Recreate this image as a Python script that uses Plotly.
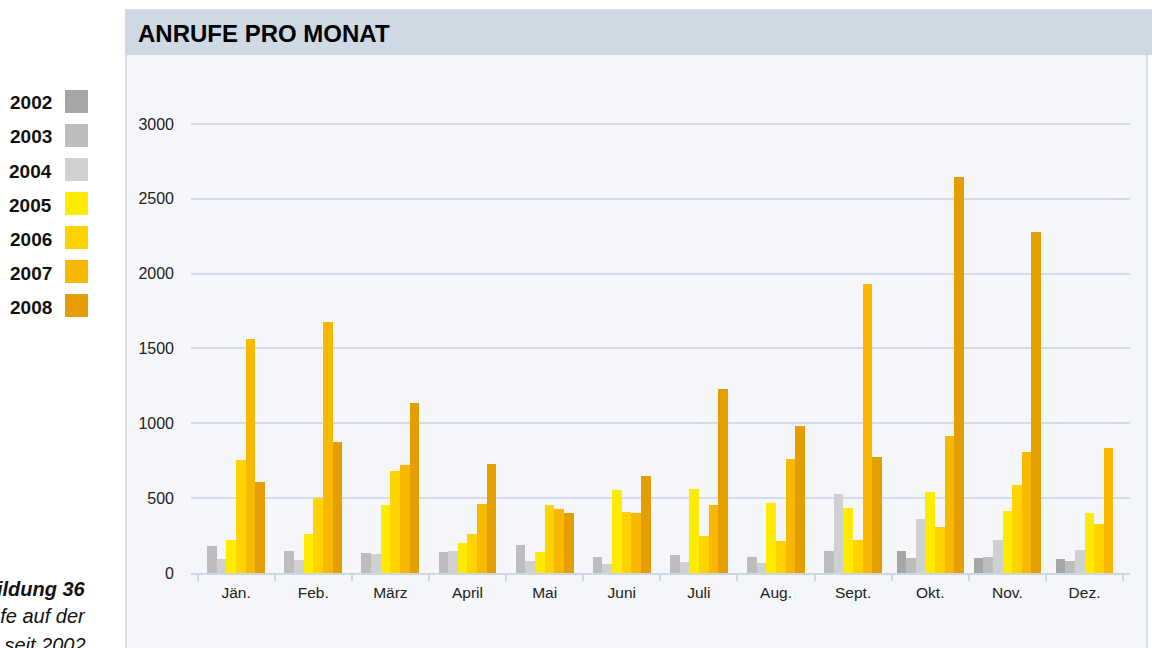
import plotly.graph_objects as go

# Monthly call counts per year
months = ["Jän.", "Feb.", "März", "April", "Mai", "Juni",
          "Juli", "Aug.", "Sept.", "Okt.", "Nov.", "Dez."]
years = ["2002", "2003", "2004", "2005", "2006", "2007", "2008"]

calls_2002 = [None, None, None, None, None, None, None, None, None, 148, 103, 94]
calls_2003 = [181, 147, 134, 143, 190, 110, 118, 104, 148, 101, 108, 80]
calls_2004 = [94, 87, 127, 150, 77, 63, 71, 64, 530, 362, 221, 154]
calls_2005 = [221, 261, 455, 203, 143, 557, 563, 470, 437, 543, 415, 401]
calls_2006 = [756, 502, 683, 263, 457, 410, 250, 217, 223, 309, 589, 328]
calls_2007 = [1560, 1680, 723, 463, 430, 403, 457, 763, 1930, 918, 810, 837]
calls_2008 = [609, 877, 1138, 730, 403, 650, 1226, 983, 777, 2645, 2276, None]

series = [calls_2002, calls_2003, calls_2004, calls_2005,
          calls_2006, calls_2007, calls_2008]
colors = ["#A6A6A6", "#BDBDBF", "#D0D0D2", "#FFEB00",
          "#FFD300", "#F9B800", "#E59E00"]

y_ticks = [0, 500, 1000, 1500, 2000, 2500, 3000]

# Figure geometry (pixels)
W, H = 1152, 648
ML, MR, MT, MB = 191, 22, 94, 75
PW, PH = W - ML - MR, H - MT - MB


def px_x(v):
    return (v - ML) / PW


def px_y(v):
    return (H - MB - v) / PH


BAR_W = 0.125

fig = go.Figure()

# Bars in each month are packed side by side and centred on the month,
# only years that have a value take a slot.
offsets = [[0.0] * len(months) for _ in series]
for m in range(len(months)):
    present = [k for k, s in enumerate(series) if s[m] is not None]
    n = len(present)
    for r, k in enumerate(present):
        offsets[k][m] = -n * BAR_W / 2 + r * BAR_W

for k, (name, vals, col) in enumerate(zip(years, series, colors)):
    fig.add_trace(go.Bar(
        x=months, y=vals, name=name,
        marker=dict(color=col, line=dict(width=0)),
        width=BAR_W, offset=offsets[k],
        showlegend=False,
    ))

shapes = []
annotations = []

# Panel body and header
shapes.append(dict(type="rect", xref="paper", yref="paper", layer="below",
                   x0=px_x(126), x1=px_x(1147), y0=px_y(700), y1=px_y(54),
                   fillcolor="#F4F6F9", line=dict(color="#D5DDE7", width=2)))
shapes.append(dict(type="rect", xref="paper", yref="paper", layer="below",
                   x0=px_x(125), x1=px_x(1160), y0=px_y(55), y1=px_y(9),
                   fillcolor="#CFD9E3", line=dict(width=0)))
annotations.append(dict(text="<b>ANRUFE PRO MONAT</b>", xref="paper", yref="paper",
                        x=px_x(136), y=px_y(34), xanchor="left", yanchor="middle",
                        showarrow=False,
                        font=dict(family="Liberation Sans, Arial", size=24, color="#000000")))

# Year key on the left
for k, (name, col) in enumerate(zip(years, colors)):
    top = 90 + 34 * k
    shapes.append(dict(type="rect", xref="paper", yref="paper",
                       x0=px_x(65), x1=px_x(88), y0=px_y(top + 23), y1=px_y(top),
                       fillcolor=col, line=dict(width=0)))
    annotations.append(dict(text="<b>" + name + "</b>", xref="paper", yref="paper",
                            x=px_x(54), y=px_y(top + 13), xanchor="right", yanchor="middle",
                            showarrow=False,
                            font=dict(family="Liberation Sans, Arial", size=19, color="#111111")))

# Figure caption
caption = [("<b><i>Abbildung 36</i></b>", 589),
           ("<i>Anrufe auf der</i>", 616),
           ("<i>Homepage seit 2002</i>", 645)]
for txt, yc in caption:
    annotations.append(dict(text=txt, xref="paper", yref="paper",
                            x=px_x(88), y=px_y(yc), xanchor="right", yanchor="middle",
                            showarrow=False,
                            font=dict(family="Liberation Sans, Arial", size=20, color="#111111")))

fig.update_layout(
    width=W, height=H,
    margin=dict(l=ML, r=MR, t=MT, b=MB, pad=0),
    paper_bgcolor="#FFFFFF",
    plot_bgcolor="rgba(0,0,0,0)",
    barmode="overlay",
    bargap=0,
    shapes=shapes,
    annotations=annotations,
    font=dict(family="Liberation Sans, Arial", size=15, color="#222222"),
    xaxis=dict(
        type="category",
        range=[-0.585, 11.59],
        showgrid=False,
        showline=True, linecolor="#CDD6E1", linewidth=2,
        ticks="outside", tickson="boundaries", ticklen=6,
        tickcolor="#CDD6E1", tickwidth=2,
        ticklabelstandoff=4,
        tickfont=dict(size=15.5, color="#222222"),
        zeroline=False,
    ),
    yaxis=dict(
        range=[0, 3200],
        tickvals=y_ticks,
        showgrid=True, gridcolor="#D3DBE6", gridwidth=1.5,
        zeroline=False, showline=False,
        ticks="", ticklabelstandoff=16,
        tickfont=dict(size=16, color="#222222"),
    ),
)

fig.write_html("out.html")
